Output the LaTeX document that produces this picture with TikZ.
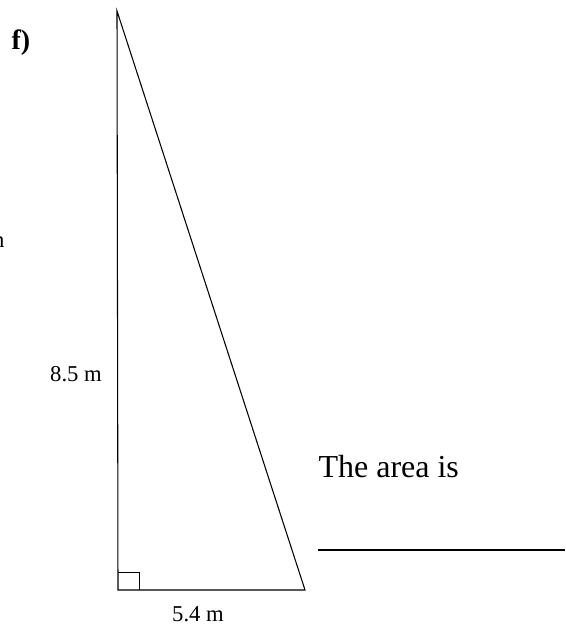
\documentclass[tikz,border=0pt]{standalone}
\usepackage{fontspec}
\setmainfont{Liberation Serif}
\usetikzlibrary{positioning}
\begin{document}
\begin{tikzpicture}[
  x=0.75pt, y=-0.75pt, line width=0.8pt,
  side/.style={font=\fontsize{17}{20}\selectfont, inner sep=0pt},
  prompt/.style={font=\fontsize{24}{28}\selectfont, inner sep=0pt, anchor=west}
]
  \useasboundingbox (0,0) rectangle (565,627);
  % triangle
  \coordinate (apex) at (117,11);
  \coordinate (rt) at (118,590);
  \coordinate (foot) at (305,590);
  \draw (apex) -- (rt) -- (foot) -- cycle;
  \draw[line width=0.6pt] (rt) ++(0,-18) -| ++(21,18);
  % labels
  \node[side] (hgt) at (76,374) {8.5 m};
  \node[side] (base) at (198,614) {5.4 m};
  \node[font=\bfseries\fontsize{21}{24}\selectfont, inner sep=0pt] (part) at (21,43) {f)};
  \node[side, anchor=east] (cut) at (5,242) {n};
  % answer
  \node[prompt] (area) at (318,467) {The area is};
  \coordinate (blankL) at (318,550);
  \coordinate (blankR) at (565,550);
  \draw (blankL) -- (blankR);
\end{tikzpicture}
\end{document}
